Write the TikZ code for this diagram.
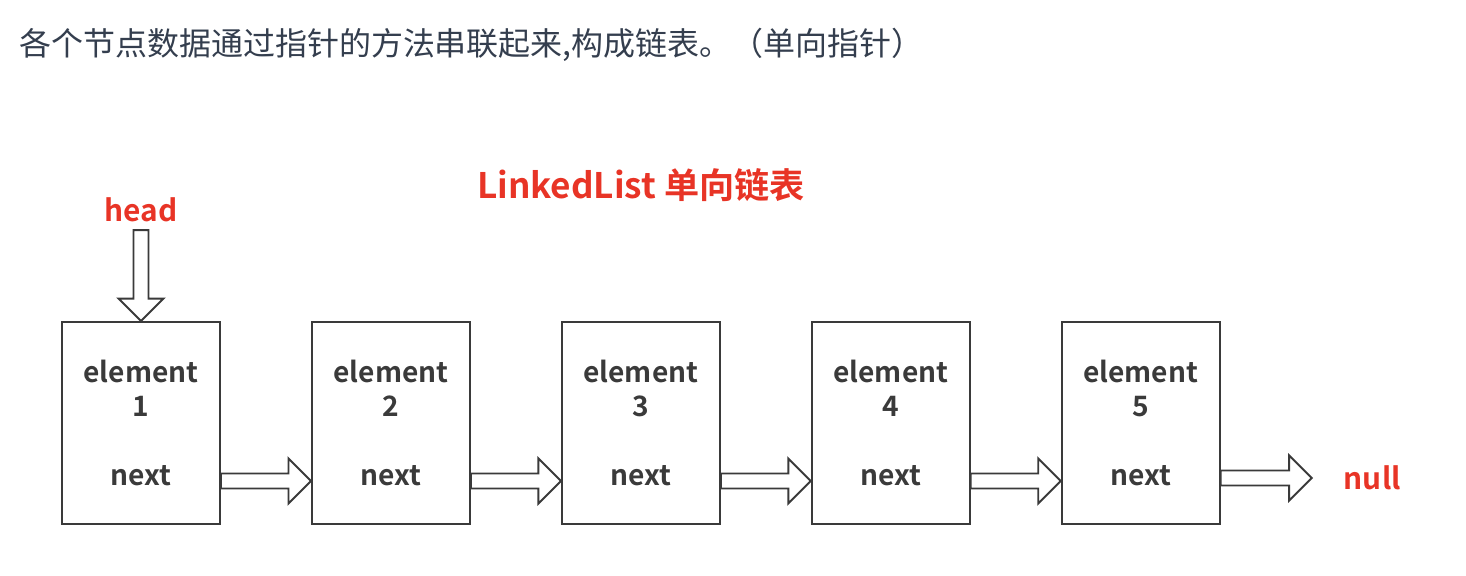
\documentclass[tikz,border=0pt]{standalone}
\usepackage{fontspec}
\setmainfont{Noto Sans CJK SC}[BoldFont={Noto Sans CJK SC Bold}]
\usepackage{tikz}
\usetikzlibrary{positioning,calc}

\definecolor{boxgray}{RGB}{58,58,58}
\definecolor{listred}{RGB}{232,52,38}
\definecolor{notegray}{RGB}{52,62,78}

\tikzset{
  cell/.style={rectangle, draw=boxgray, line width=1.1pt, minimum width=3.16cm, minimum height=4.04cm,
    align=center, text=boxgray, font=\bfseries\fontsize{16}{19}\selectfont},
  hollow/.style={draw=boxgray, line width=1.1pt, fill=white, line join=miter},
  redtag/.style={text=listred, inner sep=1pt, font=\bfseries\fontsize{17}{19}\selectfont}
}

% block arrow with an open outline
\newcommand{\hollowarrow}[2]{%
  \coordinate (hb) at ($(#2)!0.45cm!(#1)$);
  \draw[hollow] ($(#1)!0.15cm!90:(#2)$) -- ($(hb)!0.15cm!90:(#2)$)
    -- ($(hb)!0.45cm!90:(#2)$) -- (#2)
    -- ($(hb)!0.45cm!-90:(#2)$) -- ($(hb)!0.15cm!-90:(#2)$)
    -- ($(#1)!0.15cm!-90:(#2)$) -- cycle;}

\begin{document}
\begin{tikzpicture}[node distance=1.80cm]
    \useasboundingbox (0,0) rectangle (29.32,-11.52);

    \node (note) [anchor=west, text=notegray, font=\fontsize{18.2}{21}\selectfont] at (0.26,-0.9)
        {各个节点数据通过指针的方法串联起来,构成链表。（单向指针）};
    \node (title) [redtag, font=\bfseries\fontsize{20}{24}\selectfont] at (12.82,-3.7) {LinkedList 单向链表};

    \node (e1) [cell] at (2.82,-8.46) {element\\[0.5pt]1\\[0.72cm]next};
    \node (e2) [cell, right=of e1] {element\\[0.5pt]2\\[0.72cm]next};
    \node (e3) [cell, right=of e2] {element\\[0.5pt]3\\[0.72cm]next};
    \node (e4) [cell, right=of e3] {element\\[0.5pt]4\\[0.72cm]next};
    \node (e5) [cell, right=of e4] {element\\[0.5pt]5\\[0.72cm]next};

    \node (head) [redtag, above=1.94cm of e1] {head};
    \node (null) [redtag, right=2.42cm of e5.east, yshift=-1.1cm] {null};

    \hollowarrow{[yshift=-0.12cm]head.south}{e1.north}
    \hollowarrow{[yshift=-1.16cm]e1.east}{[yshift=-1.16cm]e2.west}
    \hollowarrow{[yshift=-1.16cm]e2.east}{[yshift=-1.16cm]e3.west}
    \hollowarrow{[yshift=-1.16cm]e3.east}{[yshift=-1.16cm]e4.west}
    \hollowarrow{[yshift=-1.16cm]e4.east}{[yshift=-1.16cm]e5.west}
    \hollowarrow{[yshift=-1.1cm]e5.east}{[xshift=-0.6cm]null.west}
\end{tikzpicture}
\end{document}
